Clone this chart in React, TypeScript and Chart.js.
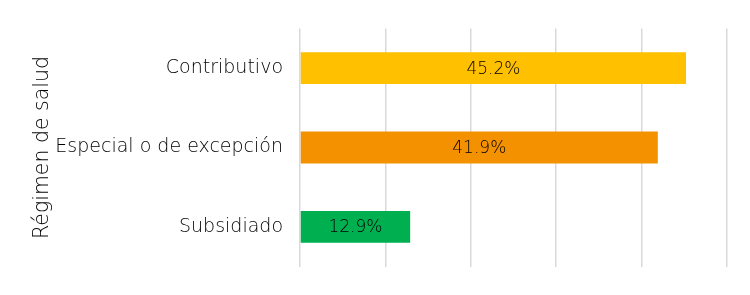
import React, { useEffect, useRef } from "react";
import { Chart, registerables } from "chart.js";

Chart.register(...registerables);

const categories = ["Contributivo", "Especial o de excepción", "Subsidiado"];
const values = [45.2, 41.9, 12.9];
const barColors = ["#FFC000", "#F39100", "#00B050"];
const axisTitle = "Régimen de salud";
const FONT = "'DejaVu Sans', sans-serif";

const labelPlugin = {
  id: "barLabels",
  afterDatasetsDraw(chart: any) {
    const ctx = chart.ctx;
    const meta = chart.getDatasetMeta(0);
    ctx.save();
    ctx.font = `200 17px ${FONT}`;
    ctx.fillStyle = "#000000";
    ctx.textAlign = "center";
    ctx.textBaseline = "middle";
    meta.data.forEach((bar: any, i: number) => {
      const x = (bar.x + bar.base) / 2;
      ctx.fillText(values[i].toFixed(1) + "%", x, bar.y + 1);
    });
    ctx.restore();
  },
};

export default function App() {
  const ref = useRef<HTMLCanvasElement>(null);
  useEffect(() => {
    document.body.style.margin = "0";
    const chart = new Chart(ref.current!, {
      type: "bar",
      data: {
        labels: categories,
        datasets: [
          {
            data: values,
            backgroundColor: barColors,
            categoryPercentage: 1,
            barPercentage: 0.4,
          },
        ],
      },
      options: {
        indexAxis: "y",
        animation: false,
        responsive: false,
        layout: { padding: { top: 23, bottom: 23, right: 23, left: 0 } },
        plugins: { legend: { display: false }, tooltip: { enabled: false } },
        scales: {
          x: {
            min: 0,
            max: 50,
            ticks: { display: false, stepSize: 10 },
            grid: { color: "#D9D9D9", lineWidth: 1.5, drawTicks: false },
            border: { display: false },
            afterFit(s: any) {
              s.height = 0;
            },
          },
          y: {
            grid: { display: false, drawTicks: false },
            border: { display: false },
            ticks: {
              color: "#000000",
              font: { family: FONT, size: 19, weight: "200" as any },
              padding: 17,
            },
            title: {
              display: true,
              text: axisTitle,
              color: "#000000",
              font: { family: FONT, size: 20.5, weight: "200" as any },
              padding: { top: 30, bottom: 0 },
            },
            afterFit(s: any) {
              s.width = 300;
            },
          },
        },
      },
      plugins: [labelPlugin],
    });
    return () => chart.destroy();
  }, []);
  return (
    <div style={{ position: "absolute", left: 0, top: 0, width: 750, height: 295 }}>
      <canvas ref={ref} width={750} height={295} />
    </div>
  );
}
